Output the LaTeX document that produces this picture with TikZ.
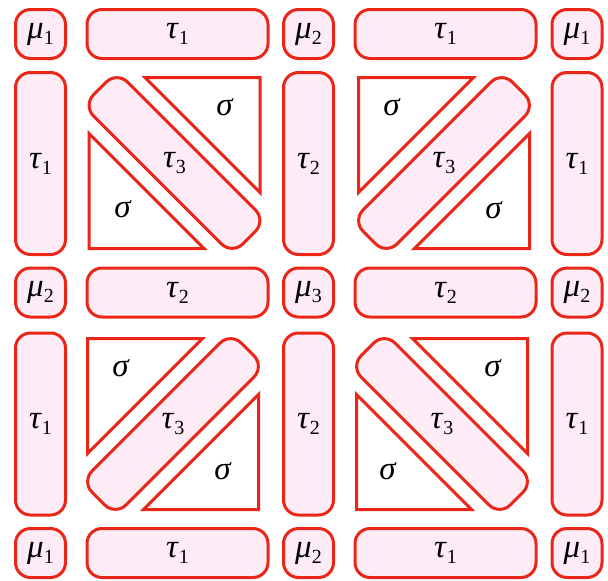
\documentclass[tikz,border=0pt]{standalone}
\usepackage{fontspec}
\setmainfont{Liberation Serif}
\definecolor{boxred}{RGB}{234,38,24}
\definecolor{boxpink}{RGB}{253,236,246}
\newcommand{\sym}[2]{\textit{#1}\raisebox{-6pt}{\fontsize{20}{20}\selectfont #2}}
\tikzset{
  cell/.style={draw=boxred, fill=boxpink, line width=3pt, rounded corners=15pt,
    inner sep=0pt, font=\fontsize{33}{40}\selectfont},
  musq/.style={cell, minimum width=50pt, minimum height=49pt},
  hbar/.style={cell, minimum width=181pt, minimum height=49pt},
  vbar/.style={cell, minimum width=50pt, minimum height=182pt},
  diagbar/.style={cell, minimum width=211pt, minimum height=48pt},
  sigtri/.style={draw=boxred, line width=3pt, fill=white},
  lbl/.style={inner sep=0pt, font=\fontsize{33}{40}\selectfont},
}

\begin{document}
\begin{tikzpicture}[x=1pt, y=-1pt]
  \useasboundingbox (0,0) rectangle (608,581);
  % row 1
  \node[musq] (m11) at (40.5,34) {\sym{μ}{1}};
  \node[hbar] (t12) at (177.5,34) {\sym{τ}{1}};
  \node[musq] (m13) at (308.5,34) {\sym{μ}{2}};
  \node[hbar] (t14) at (445.5,34) {\sym{τ}{1}};
  \node[musq] (m15) at (577,34) {\sym{μ}{1}};
  % row 2
  \node[vbar] (t21) at (40.5,163.5) {\sym{τ}{1}};
  \node[vbar] (t23) at (308.5,163.5) {\sym{τ}{2}};
  \node[vbar] (t25) at (577,163.5) {\sym{τ}{1}};
  % row 3
  \node[musq] (m31) at (40.5,292.5) {\sym{μ}{2}};
  \node[hbar] (t32) at (177.5,292.5) {\sym{τ}{2}};
  \node[musq] (m33) at (308.5,292.5) {\sym{μ}{3}};
  \node[hbar] (t34) at (445.5,292.5) {\sym{τ}{2}};
  \node[musq] (m35) at (577,292.5) {\sym{μ}{2}};
  % row 4
  \node[vbar] (t41) at (40.5,424) {\sym{τ}{1}};
  \node[vbar] (t43) at (308.5,424) {\sym{τ}{2}};
  \node[vbar] (t45) at (577,424) {\sym{τ}{1}};
  % row 5
  \node[musq] (m51) at (40.5,553) {\sym{μ}{1}};
  \node[hbar] (t52) at (177.5,553) {\sym{τ}{1}};
  \node[musq] (m53) at (308.5,553) {\sym{μ}{2}};
  \node[hbar] (t54) at (445.5,553) {\sym{τ}{1}};
  \node[musq] (m55) at (577,553) {\sym{μ}{1}};

  % block top left
  \begin{scope}[shift={(174.5,163)}]
    \draw[sigtri] (-29.5,-85.5) -- (85.5,-85.5) -- (85.5,29.5) -- cycle;
    \draw[sigtri] (-85.5,-29.5) -- (-85.5,85.5) -- (29.5,85.5) -- cycle;
    \node[diagbar, rotate=-45] (d22) at (0,0) {};
    \node[lbl] (l22) at (d22.center) {\sym{τ}{3}};
    \node[lbl] (s22a) at (50.5,-56) {\textit{σ}};
    \node[lbl] (s22b) at (-51.5,46) {\textit{σ}};
  \end{scope}
  % block top right
  \begin{scope}[shift={(444,163)}]
    \draw[sigtri] (-85.5,-85.5) -- (29.5,-85.5) -- (-85.5,29.5) -- cycle;
    \draw[sigtri] (85.5,-29.5) -- (85.5,85.5) -- (-29.5,85.5) -- cycle;
    \node[diagbar, rotate=45] (d24) at (0,0) {};
    \node[lbl] (l24) at (d24.center) {\sym{τ}{3}};
    \node[lbl] (s24a) at (-52,-56) {\textit{σ}};
    \node[lbl] (s24b) at (50,47) {\textit{σ}};
  \end{scope}
  % block bottom left
  \begin{scope}[shift={(173,424)}]
    \draw[sigtri] (-85.5,-85.5) -- (29.5,-85.5) -- (-85.5,29.5) -- cycle;
    \draw[sigtri] (85.5,-29.5) -- (85.5,85.5) -- (-29.5,85.5) -- cycle;
    \node[diagbar, rotate=45] (d42) at (0,0) {};
    \node[lbl] (l42) at (d42.center) {\sym{τ}{3}};
    \node[lbl] (s42a) at (-52,-56) {\textit{σ}};
    \node[lbl] (s42b) at (50,47) {\textit{σ}};
  \end{scope}
  % block bottom right
  \begin{scope}[shift={(442,424)}]
    \draw[sigtri] (-29.5,-85.5) -- (85.5,-85.5) -- (85.5,29.5) -- cycle;
    \draw[sigtri] (-85.5,-29.5) -- (-85.5,85.5) -- (29.5,85.5) -- cycle;
    \node[diagbar, rotate=-45] (d44) at (0,0) {};
    \node[lbl] (l44) at (d44.center) {\sym{τ}{3}};
    \node[lbl] (s44a) at (51,-56) {\textit{σ}};
    \node[lbl] (s44b) at (-54,47) {\textit{σ}};
  \end{scope}
\end{tikzpicture}
\end{document}
